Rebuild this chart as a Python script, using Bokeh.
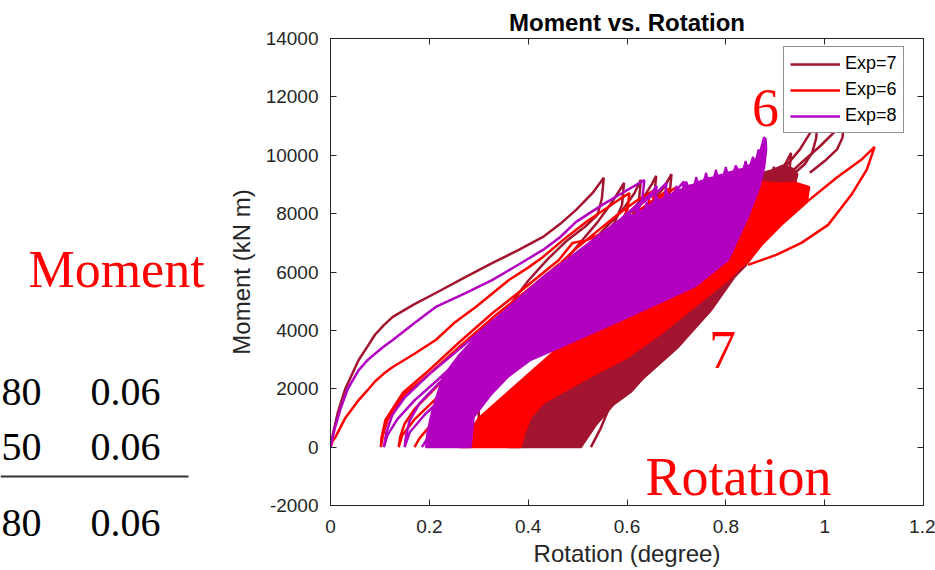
from bokeh.plotting import figure
from bokeh.layouts import row
from bokeh.models import (Range1d, LinearAxis, Label, Legend, LegendItem,
                          FixedTicker, BoxAnnotation)
from bokeh.embed import file_html
from bokeh.resources import INLINE

# ---------------- axis ticks ----------------
x_ticks = [0, 0.2, 0.4, 0.6, 0.8, 1.0, 1.2]
x_tick_labels = ["0", "0.2", "0.4", "0.6", "0.8", "1", "1.2"]
y_ticks = [-2000, 0, 2000, 4000, 6000, 8000, 10000, 12000, 14000]
y_tick_labels = ["-2000", "0", "2000", "4000", "6000", "8000", "10000", "12000", "14000"]

series_names = ["Exp=7", "Exp=6", "Exp=8"]
series_colors = ["#A2142F", "#FF0000", "#B300C0"]

# ---------------- Exp=7 ----------------
exp7_fill_x = [0.36, 0.507, 0.537, 0.572, 0.608, 0.635, 0.703, 0.770, 0.817, 0.841, 0.87, 0.90, 0.925,
               0.94, 0.945, 0.935, 0.915, 0.895, 0.875, 0.86, 0.80, 0.70, 0.60, 0.50, 0.42, 0.38]
exp7_fill_y = [0, 0, 755, 1441, 1887, 2401, 3430, 4699, 5831, 6243, 7000, 7800, 8500,
               9000, 9350, 9550, 9650, 9500, 9400, 9300, 8500, 7000, 5000, 3000, 1500, 600]
exp7_lines_x = [
    [0, 0.005, 0.015, 0.03, 0.045, 0.057, 0.075, 0.09, 0.108, 0.126, 0.15, 0.17, 0.213, 0.27, 0.328,
     0.38, 0.43, 0.465, 0.497, 0.53, 0.553,
     0.549, 0.54, 0.515, 0.48, 0.44, 0.40, 0.36, 0.33, 0.31, 0.30, 0.30],
    [0.45, 0.50, 0.54, 0.57, 0.585, 0.594, 0.59, 0.575, 0.55, 0.52],
    [0.50, 0.55, 0.59, 0.615, 0.628, 0.624, 0.61, 0.58, 0.55],
    [0.55, 0.60, 0.635, 0.65, 0.659, 0.655, 0.64, 0.61],
    [0.60, 0.65, 0.675, 0.69, 0.686, 0.67, 0.65],
    [0.84, 0.87, 0.89, 0.898, 0.895, 0.88, 0.86],
    [0.86, 0.90, 0.922, 0.932, 0.929, 0.915, 0.90],
    [0.88, 0.92, 0.95, 0.97, 0.985, 0.983, 0.975, 0.96, 0.94],
    [0.90, 0.95, 0.99, 1.02, 1.04, 1.036, 1.025, 1.0, 0.97],
    [0.527, 0.547, 0.568, 0.635, 0.703, 0.770, 0.817, 0.841],
]
exp7_lines_y = [
    [0, 450, 1200, 2000, 2550, 2984, 3450, 3850, 4180, 4460, 4700, 4900, 5280, 5800, 6310,
     6750, 7200, 7650, 8130, 8700, 9230,
     8500, 7950, 7550, 7100, 6450, 5700, 4800, 3800, 2700, 1500, 0],
    [5900, 6900, 7700, 8400, 8800, 9055, 8300, 7700, 7150, 6700],
    [6500, 7400, 8100, 8700, 9158, 8400, 7900, 7400, 7100],
    [7100, 7900, 8600, 9000, 9295, 8500, 8100, 7700],
    [7600, 8400, 8900, 9350, 8600, 8300, 8000],
    [8000, 8800, 9300, 9604, 9100, 8700, 8400],
    [8300, 9200, 9750, 10084, 9500, 9100, 8900],
    [8700, 9600, 10200, 10750, 11100, 10600, 10100, 9700, 9400],
    [8900, 9700, 10300, 10800, 11300, 10600, 10200, 9800, 9400],
    [0, 652, 1509, 2401, 3430, 4699, 5831, 6243],
]

# ---------------- Exp=6 ----------------
exp6_fill_x = [0.26, 0.385, 0.392, 0.405, 0.43, 0.466, 0.53, 0.602, 0.67, 0.736, 0.805, 0.831, 0.845, 0.866,
               0.892, 0.932, 0.965, 0.969, 0.943, 0.90, 0.87, 0.80, 0.70, 0.60, 0.50, 0.40, 0.30]
exp6_fill_y = [0, 0, 450, 1000, 1500, 1852, 2450, 3087, 3900, 4802, 5728, 6174, 6346, 6860,
               7375, 7958, 8472, 8918, 9055, 9050, 9100, 8300, 7000, 5500, 4000, 2500, 1000]
exp6_lines_x = [
    [0, 0.004, 0.01, 0.03, 0.057, 0.075, 0.09, 0.108, 0.126, 0.17, 0.213, 0.25, 0.294, 0.33, 0.361, 0.40,
     0.43, 0.476, 0.52, 0.56, 0.59, 0.605,
     0.601, 0.59, 0.56, 0.52, 0.49, 0.462, 0.395, 0.328, 0.259, 0.193, 0.146, 0.111, 0.103, 0.102,
     0.106, 0.116, 0.15, 0.198, 0.264, 0.333, 0.40, 0.467, 0.50, 0.54, 0.58, 0.62, 0.645, 0.655,
     0.652, 0.64, 0.61, 0.56, 0.50, 0.44, 0.38, 0.32, 0.26, 0.21, 0.17, 0.145, 0.138,
     0.141, 0.15, 0.17, 0.205, 0.25, 0.31, 0.38, 0.45, 0.52, 0.58, 0.63, 0.67, 0.695, 0.70,
     0.697, 0.68, 0.64, 0.55, 0.45, 0.35, 0.27, 0.21, 0.18, 0.17],
    [0.845, 0.902, 0.953, 1.007, 1.054, 1.085, 1.099, 1.101, 1.074, 1.024, 0.969, 0.912, 0.872, 0.845],
    [0.56, 0.60, 0.63, 0.645, 0.642, 0.63, 0.60],
    [0.60, 0.64, 0.67, 0.685, 0.682, 0.67, 0.64],
]
exp6_lines_y = [
    [0, 200, 343, 1000, 1612, 1950, 2250, 2520, 2744, 3200, 3670, 4250, 4802, 5300, 5728, 6150,
     6517, 7169, 7750, 8200, 8550, 8700,
     8150, 7750, 7400, 7100, 6997, 6414, 5488, 4596, 3567, 2538, 1852, 926, 300, 0,
     400, 950, 1800, 2480, 3480, 4500, 5400, 6330, 6850, 7400, 7950, 8450, 8700, 8800,
     8250, 7850, 7400, 6800, 6000, 5150, 4250, 3350, 2400, 1600, 950, 400, 0,
     350, 800, 1300, 1900, 2700, 3600, 4600, 5550, 6500, 7300, 8000, 8550, 8850, 8900,
     8400, 7900, 7400, 6200, 4800, 3300, 1900, 900, 300, 0],
    [6243, 6586, 6997, 7615, 8644, 9501, 10187, 10290, 9844, 9227, 8472, 7615, 6929, 6346],
    [7300, 7950, 8350, 8600, 8100, 7800, 7500],
    [7800, 8300, 8650, 8850, 8350, 8100, 7900],
]

# ---------------- Exp=8 ----------------
exp8_fill_x = [0.193, 0.284, 0.290, 0.324, 0.359, 0.405, 0.466, 0.602, 0.736, 0.805, 0.845, 0.868, 0.878,
               0.882, 0.881, 0.877,
               0.872, 0.868, 0.866, 0.862, 0.858, 0.855, 0.850, 0.843, 0.840, 0.836, 0.825, 0.820, 0.816,
               0.803, 0.800, 0.796, 0.783, 0.780, 0.776, 0.763, 0.760, 0.756, 0.743, 0.740, 0.736,
               0.723, 0.720, 0.716, 0.703, 0.700, 0.696, 0.683, 0.680, 0.676, 0.663, 0.660, 0.656,
               0.643, 0.640, 0.636, 0.623, 0.620, 0.616, 0.60, 0.55, 0.497, 0.465,
               0.43, 0.361, 0.294, 0.26, 0.227, 0.205, 0.196]
exp8_fill_y = [0, 0, 1029, 1784, 2401, 2984, 3430, 4459, 5488, 6414, 7889, 8900, 9600,
               10200, 10550, 10620,
               10300, 10050, 10200, 9900, 9800, 9950, 9700, 9600, 9800, 9550, 9500, 9650, 9450,
               9400, 9600, 9350, 9300, 9500, 9250, 9200, 9400, 9150, 9080, 9250, 9000,
               8950, 9100, 8850, 8800, 8950, 8700, 8650, 8800, 8550, 8450, 8600, 8350,
               8250, 8400, 8150, 8050, 8200, 7950, 7950, 7350, 6654, 6260,
               5831, 4802, 3773, 3150, 2401, 1200, 500]
exp8_lines_x = [
    [0, 0.008, 0.02, 0.035, 0.057, 0.075, 0.09, 0.108, 0.126, 0.17, 0.213, 0.27, 0.328, 0.38, 0.43,
     0.465, 0.497, 0.55, 0.60, 0.635,
     0.631, 0.62, 0.59, 0.55, 0.50, 0.45, 0.40, 0.34, 0.28, 0.22, 0.17, 0.135, 0.115, 0.108,
     0.113, 0.125, 0.15, 0.20, 0.26, 0.33, 0.40, 0.47, 0.53, 0.58, 0.63, 0.665, 0.68,
     0.676, 0.66, 0.62, 0.57, 0.50, 0.43, 0.36, 0.30, 0.24, 0.19, 0.16, 0.15,
     0.153, 0.16, 0.18, 0.22, 0.28, 0.35, 0.42, 0.49, 0.55, 0.61, 0.66, 0.70, 0.715,
     0.712, 0.70, 0.66, 0.60, 0.50, 0.40, 0.30, 0.24, 0.20, 0.185],
    [0.58, 0.62, 0.65, 0.66, 0.657, 0.645, 0.62],
]
exp8_lines_y = [
    [0, 600, 1300, 2000, 2641, 2980, 3200, 3450, 3670, 4250, 4802, 5250, 5728, 6250, 6757,
     7200, 7718, 8300, 8800, 9150,
     8500, 8000, 7600, 7150, 6550, 5900, 5150, 4250, 3300, 2350, 1600, 950, 400, 0,
     500, 1100, 1700, 2500, 3350, 4350, 5300, 6200, 7000, 7700, 8350, 8800, 9050,
     8450, 8000, 7550, 6900, 5900, 4900, 3900, 2900, 1900, 1100, 500, 0,
     400, 900, 1500, 2200, 3100, 4100, 5050, 5900, 6700, 7500, 8200, 8800, 9100,
     8500, 8100, 7500, 6500, 5000, 3500, 2000, 1000, 400, 0],
    [7700, 8300, 8700, 8950, 8450, 8250, 8000],
]

# ---------------- surrounding page text ----------------
table_left = ["80", "50", "80"]
table_right = ["0.06", "0.06", "0.06"]

FONT = "Liberation Sans"
SERIF = "Liberation Serif"
AX = "#262626"
RED = "#FF0000"

# ---------------- left panel (page text beside the chart) ----------------
side = figure(width=215, height=570, output_backend="svg", toolbar_location=None,
              x_range=Range1d(0, 215), y_range=Range1d(0, 570),
              x_axis_type=None, y_axis_type=None,
              min_border_left=0, min_border_right=0, min_border_top=0, min_border_bottom=0)
side.grid.visible = False
side.outline_line_color = None

def side_label(x, y, text, size, color, align):
    side.add_layout(Label(x=x, y=y, text=text, text_font=SERIF, text_font_size=size,
                          text_color=color, text_align=align, text_baseline="alphabetic"))

side_label(116, 301, "Moment", "52px", RED, "center")
for a, b, yy in zip(table_left, table_right, [178.5, 123.5, 47.5]):
    side_label(41, yy, a, "40px", "black", "right")
    side_label(90, yy, b, "40px", "black", "left")
side.add_layout(BoxAnnotation(left=0, right=188, bottom=93, top=95,
                              fill_color="#333333", fill_alpha=1, line_color=None))

# ---------------- chart ----------------
p = figure(width=720, height=570, output_backend="svg", toolbar_location=None,
           x_range=Range1d(0, 1.2), y_range=Range1d(-2000, 14000),
           min_border_left=115, min_border_right=12, min_border_top=38, min_border_bottom=65,
           background_fill_color="white", border_fill_color="white")
p.grid.visible = False
p.outline_line_color = AX
p.outline_line_width = 1

for fig in (side, p):
    try:
        fig.frame_align = False
    except Exception:
        pass

p.title.text = "Moment vs. Rotation"
p.title.align = "center"
p.title.text_font = FONT
p.title.text_font_size = "24px"
p.title.text_font_style = "bold"
p.title.text_color = "black"
p.title.standoff = 6

def style_axis(ax, ticks, labels, show_labels=True):
    ax.ticker = FixedTicker(ticks=ticks)
    ax.major_tick_in = 6
    ax.major_tick_out = 0
    ax.minor_tick_in = 0
    ax.minor_tick_out = 0
    ax.axis_line_color = AX
    ax.major_tick_line_color = AX
    ax.axis_line_width = 1
    if show_labels:
        ax.major_label_overrides = {t: l for t, l in zip(ticks, labels)}
        ax.major_label_text_font = FONT
        ax.major_label_text_font_size = "19px"
        ax.major_label_text_color = AX
        ax.axis_label_text_font = FONT
        ax.axis_label_text_font_size = "24px"
        ax.axis_label_text_font_style = "normal"
        ax.axis_label_text_color = AX
    else:
        ax.major_label_text_color = None
        ax.major_label_text_font_size = "1px"
        ax.major_label_standoff = 0

xa = p.xaxis[0]
style_axis(xa, x_ticks, x_tick_labels)
xa.axis_label = "Rotation (degree)"
xa.major_label_standoff = 14
xa.axis_label_standoff = 4

ya = p.yaxis[0]
style_axis(ya, y_ticks, y_tick_labels)
ya.axis_label = "Moment (kN m)"
ya.major_label_standoff = 12
ya.axis_label_standoff = 8

top_ax = LinearAxis()
style_axis(top_ax, x_ticks, x_tick_labels, show_labels=False)
p.add_layout(top_ax, "above")
right_ax = LinearAxis()
style_axis(right_ax, y_ticks, y_tick_labels, show_labels=False)
p.add_layout(right_ax, "right")

LW = 2.5
c7, c6, c8 = series_colors
p.patch(exp7_fill_x, exp7_fill_y, fill_color=c7, line_color=c7, line_width=2)
r7 = p.multi_line(exp7_lines_x, exp7_lines_y, line_color=c7, line_width=LW)
p.patch(exp6_fill_x, exp6_fill_y, fill_color=c6, line_color=c6, line_width=2)
r6 = p.multi_line(exp6_lines_x, exp6_lines_y, line_color=c6, line_width=LW)
p.patch(exp8_fill_x, exp8_fill_y, fill_color=c8, line_color=c8, line_width=2)
r8 = p.multi_line(exp8_lines_x, exp8_lines_y, line_color=c8, line_width=LW)

legend = Legend(items=[LegendItem(label=series_names[0], renderers=[r7]),
                       LegendItem(label=series_names[1], renderers=[r6]),
                       LegendItem(label=series_names[2], renderers=[r8])],
                location=(453, 372), orientation="vertical")
legend.border_line_color = AX
legend.border_line_width = 1
legend.background_fill_color = "white"
legend.background_fill_alpha = 1
legend.label_text_font = FONT
legend.label_text_font_size = "18px"
legend.label_text_color = "black"
legend.glyph_width = 50
legend.glyph_height = 20
legend.label_height = 20
legend.spacing = 5
legend.padding = 6
legend.margin = 0
legend.label_standoff = 5
p.add_layout(legend)

def chart_label(x, y, text):
    p.add_layout(Label(x=x, y=y, x_units="screen", y_units="screen", text=text,
                       text_font=SERIF, text_font_size="54px", text_color=RED,
                       text_align="center", text_baseline="alphabetic"))

chart_label(408, 29, "Rotation")
chart_label(435, 398, "6")
chart_label(392, 156, "7")

layout = row(side, p, spacing=0)
open("out.html", "w").write(file_html(layout, INLINE))
